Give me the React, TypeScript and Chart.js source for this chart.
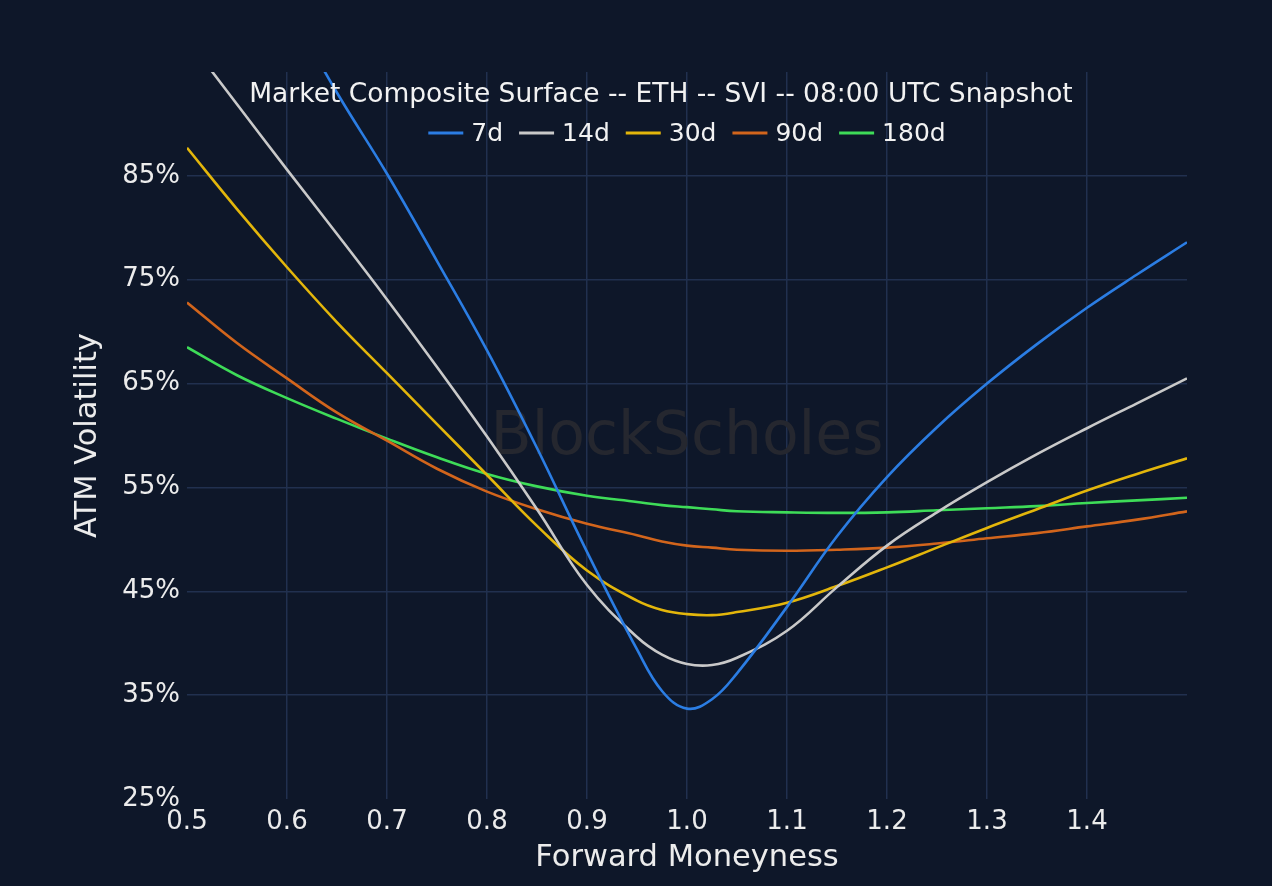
import { useEffect, useRef } from "react";
import { Chart, registerables } from "chart.js";

Chart.register(...registerables);

// forward moneyness sample points
const moneyness = [0.5, 0.55, 0.6, 0.65, 0.7, 0.75, 0.8, 0.85, 0.9, 0.95, 0.975, 1.0, 1.025, 1.05, 1.1, 1.15, 1.2, 1.25, 1.3, 1.35, 1.4, 1.45, 1.5];

// ATM vol (%) per tenor
const vol7d = [118, 110, 101.5, 93, 85.2, 76.8, 68.2, 58.8, 48.8, 39.4, 35.4, 33.7, 34.6, 37.1, 43.5, 50.3, 56, 60.8, 65, 68.8, 72.3, 75.5, 78.6];
const vol14d = [98.2, 91.9, 85.6, 79.4, 73.1, 66.6, 59.9, 52.9, 45.6, 40.6, 38.9, 38.0, 37.9, 38.6, 41.2, 45.4, 49.4, 52.6, 55.5, 58.2, 60.7, 63.1, 65.5];
const vol30d = [87.7, 81.8, 76.2, 70.9, 66.0, 61.1, 56.2, 51.3, 47.0, 44.1, 43.2, 42.8, 42.7, 43.0, 43.9, 45.5, 47.3, 49.2, 51.1, 52.9, 54.7, 56.3, 57.8];
const vol90d = [72.8, 68.9, 65.5, 62.2, 59.5, 56.8, 54.6, 52.9, 51.5, 50.4, 49.8, 49.4, 49.2, 49.0, 48.9, 49.0, 49.2, 49.6, 50.1, 50.6, 51.25, 51.9, 52.7];
const vol180d = [68.5, 65.8, 63.6, 61.6, 59.7, 57.9, 56.3, 55.1, 54.2, 53.6, 53.3, 53.1, 52.9, 52.7, 52.6, 52.55, 52.6, 52.8, 53.0, 53.2, 53.5, 53.75, 54.0];

const tenorLabels = ["7d", "14d", "30d", "90d", "180d"];
const tenorColors = ["#2b7de3", "#c9c9c9", "#e3b60b", "#d2651c", "#3edc58"];

const xTickValues = [0.5, 0.6, 0.7, 0.8, 0.9, 1.0, 1.1, 1.2, 1.3, 1.4];
const yTickValues = [25, 35, 45, 55, 65, 75, 85];

const TITLE = "Market Composite Surface -- ETH -- SVI -- 08:00 UTC Snapshot";
const FONT = "'DejaVu Sans', Verdana, sans-serif";
const BG = "#0e1729";
const GRID = "#21304f";

const overlayPlugin = {
    id: "overlay",
    beforeDatasetsDraw(chart: any) {
        const { ctx, chartArea } = chart;
        ctx.save();
        ctx.font = `60px ${FONT}`;
        ctx.fillStyle = "rgb(37,39,47)";
        ctx.textAlign = "center";
        ctx.textBaseline = "middle";
        ctx.fillText("BlockScholes", (chartArea.left + chartArea.right) / 2, 438);
        ctx.restore();
    },
    afterDatasetsDraw(chart: any) {
        const { ctx, chartArea } = chart;
        const cx = (chartArea.left + chartArea.right) / 2;
        ctx.save();
        ctx.fillStyle = "#f2f2f2";
        ctx.textBaseline = "middle";
        ctx.textAlign = "center";
        ctx.font = `26.5px ${FONT}`;
        ctx.fillText(TITLE, cx - 26, 95);

        // legend
        ctx.font = `25px ${FONT}`;
        const lineW = 35, gap = 8, spacing = 16;
        const widths = tenorLabels.map(l => ctx.measureText(l).width);
        const total = widths.reduce((a, w) => a + lineW + gap + w, 0) + spacing * (tenorLabels.length - 1);
        let x = cx - total / 2;
        const y = 133;
        ctx.textAlign = "left";
        tenorLabels.forEach((l, i) => {
            ctx.strokeStyle = tenorColors[i];
            ctx.lineWidth = 3;
            ctx.beginPath();
            ctx.moveTo(x, y);
            ctx.lineTo(x + lineW, y);
            ctx.stroke();
            x += lineW + gap;
            ctx.fillStyle = "#f2f2f2";
            ctx.fillText(l, x, y + 1);
            x += widths[i] + spacing;
        });
        ctx.restore();
    }
};

export default function App() {
    const canvasRef = useRef<HTMLCanvasElement>(null);

    useEffect(() => {
        if (!canvasRef.current) return;
        const series = [vol7d, vol14d, vol30d, vol90d, vol180d];

        const chart = new Chart(canvasRef.current, {
            type: "line",
            data: {
                datasets: series.map((vals, i) => ({
                    label: tenorLabels[i],
                    data: moneyness.map((m, j) => ({ x: m, y: vals[j] })),
                    borderColor: tenorColors[i],
                    backgroundColor: tenorColors[i],
                    borderWidth: 2.6,
                    pointRadius: 0,
                    tension: 0.4,
                })),
            },
            options: {
                responsive: false,
                animation: false,
                layout: { padding: { top: 72, right: 85, left: 0, bottom: 0 } },
                plugins: {
                    legend: { display: false },
                    title: { display: false },
                    tooltip: { enabled: false },
                },
                scales: {
                    x: {
                        type: "linear",
                        min: 0.5,
                        max: 1.5,
                        afterBuildTicks: (scale: any) => {
                            scale.ticks = xTickValues.map(v => ({ value: v }));
                        },
                        afterFit: (scale: any) => {
                            scale.height = 87;
                        },
                        grid: {
                            color: (c: any) => (Math.abs(c.tick.value - 0.5) < 1e-6 ? "rgba(0,0,0,0)" : GRID),
                            lineWidth: 1.5,
                            drawTicks: false,
                        },
                        border: { display: false },
                        ticks: {
                            color: "#ececec",
                            font: { family: FONT, size: 26 },
                            padding: 8,
                            maxRotation: 0,
                            callback: (v: any) => Number(v).toFixed(1),
                        },
                        title: {
                            display: true,
                            text: "Forward Moneyness",
                            color: "#ececec",
                            font: { family: FONT, size: 30.5 },
                            padding: { top: 0, bottom: 10 },
                        },
                    },
                    y: {
                        type: "linear",
                        min: 25,
                        max: 95,
                        afterBuildTicks: (scale: any) => {
                            scale.ticks = yTickValues.map(v => ({ value: v }));
                        },
                        afterFit: (scale: any) => {
                            scale.width = 187;
                        },
                        grid: {
                            color: (c: any) => (c.tick.value === 25 ? "rgba(0,0,0,0)" : GRID),
                            lineWidth: 1.5,
                            drawTicks: false,
                        },
                        border: { display: false },
                        ticks: {
                            color: "#ececec",
                            font: { family: FONT, size: 26 },
                            padding: 7,
                            callback: (v: any) => `${v}%`,
                        },
                        title: {
                            display: true,
                            text: "ATM Volatility",
                            color: "#ececec",
                            font: { family: FONT, size: 30.5 },
                            padding: { top: 70, bottom: 0 },
                        },
                    },
                },
            },
            plugins: [overlayPlugin],
        });

        return () => {
            chart.destroy();
        };
    }, []);

    return (
        <div style={{ position: "fixed", left: 0, top: 0, width: 1272, height: 886, background: BG }}>
            <canvas ref={canvasRef} width={1272} height={886} style={{ width: 1272, height: 886 }} />
        </div>
    );
}
